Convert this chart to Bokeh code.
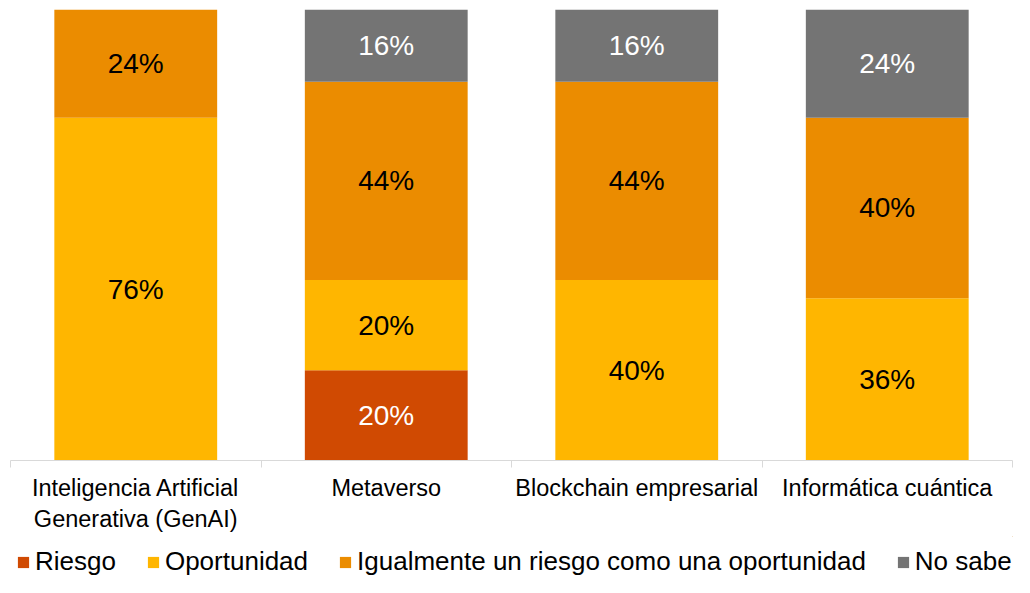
from bokeh.plotting import figure
from bokeh.layouts import column
from bokeh.models import ColumnDataSource, FixedTicker, Legend, LegendItem, Range1d
from bokeh.embed import file_html
from bokeh.resources import INLINE
from bokeh.core.properties import value

categories = ["Inteligencia Artificial\nGenerativa (GenAI)", "Metaverso",
              "Blockchain empresarial", "Informática cuántica"]
series = ["Riesgo", "Oportunidad", "Igualmente un riesgo como una oportunidad", "No sabe"]
riesgo = [0, 20, 0, 0]
oportunidad = [76, 20, 40, 36]
igualmente = [24, 44, 44, 40]
no_sabe = [0, 16, 16, 24]
values = [riesgo, oportunidad, igualmente, no_sabe]
colors = ["#D04A02", "#FFB600", "#EB8C00", "#747474"]
label_colors = ["white", "black", "black", "white"]

FONT = "Liberation Sans"

p = figure(width=1014, height=536, x_range=Range1d(0, 4), y_range=Range1d(0, 100),
           output_backend="svg", toolbar_location=None,
           min_border_left=10, min_border_right=2, min_border_top=9, min_border_bottom=76)

xs = [i + 0.5 for i in range(len(categories))]
bottoms = [0.0] * len(categories)
for s, vals, col, lcol in zip(series, values, colors, label_colors):
    tops = [b + v for b, v in zip(bottoms, vals)]
    src = ColumnDataSource(dict(x=xs, bottom=list(bottoms), top=tops))
    p.vbar(x="x", bottom="bottom", top="top", width=0.65, source=src,
           fill_color=col, line_color=None)
    lx, ly, lt = [], [], []
    for x, b, v in zip(xs, bottoms, vals):
        if v > 0:
            lx.append(x)
            ly.append(b + v / 2)
            lt.append(f"{v}%")
    lsrc = ColumnDataSource(dict(x=lx, y=ly, t=lt))
    p.text(x="x", y="y", text="t", source=lsrc, text_align="center", text_baseline="middle",
           text_font=value(FONT), text_font_size="28px", text_color=lcol)
    bottoms = tops

p.xaxis.ticker = FixedTicker(ticks=xs, minor_ticks=[0, 1, 2, 3, 4])
p.xaxis.major_label_overrides = {x: c for x, c in zip(xs, categories)}
p.xaxis.major_tick_line_color = None
p.xaxis.minor_tick_in = 0
p.xaxis.minor_tick_out = 7
p.xaxis.minor_tick_line_color = "#D9D9D9"
p.xaxis.axis_line_color = "#D9D9D9"
p.xaxis.major_label_standoff = 7
p.xaxis.major_label_text_font = FONT
p.xaxis.major_label_text_font_size = "23.5px"
p.xaxis.major_label_text_color = "black"
p.yaxis.visible = False
p.xgrid.visible = False
p.ygrid.visible = False
p.outline_line_color = None

# legend in a separate strip below the chart
pl = figure(width=1014, height=41, x_range=Range1d(0, 1), y_range=Range1d(0, 1),
            output_backend="svg", toolbar_location=None,
            min_border_left=0, min_border_right=0, min_border_top=0, min_border_bottom=0)
items = []
for s, col in zip(series, colors):
    # one dummy bar outside the visible range, only to give the legend a glyph
    r = pl.vbar(x=[5], top=[5], bottom=[4], width=0.1, fill_color=col, line_color=None)
    items.append(LegendItem(label=s, renderers=[r]))
pl.axis.visible = False
pl.xgrid.visible = False
pl.ygrid.visible = False
pl.outline_line_color = None

legend = Legend(items=items, orientation="horizontal", location=(6, 0),
                glyph_width=14, glyph_height=14, label_standoff=5, spacing=30,
                label_text_font=FONT, label_text_font_size="26px", label_text_color="black",
                padding=0, margin=0, border_line_color=None, background_fill_alpha=0)
pl.add_layout(legend)

layout = column(p, pl, spacing=0)
open("out.html", "w").write(file_html(layout, INLINE))
